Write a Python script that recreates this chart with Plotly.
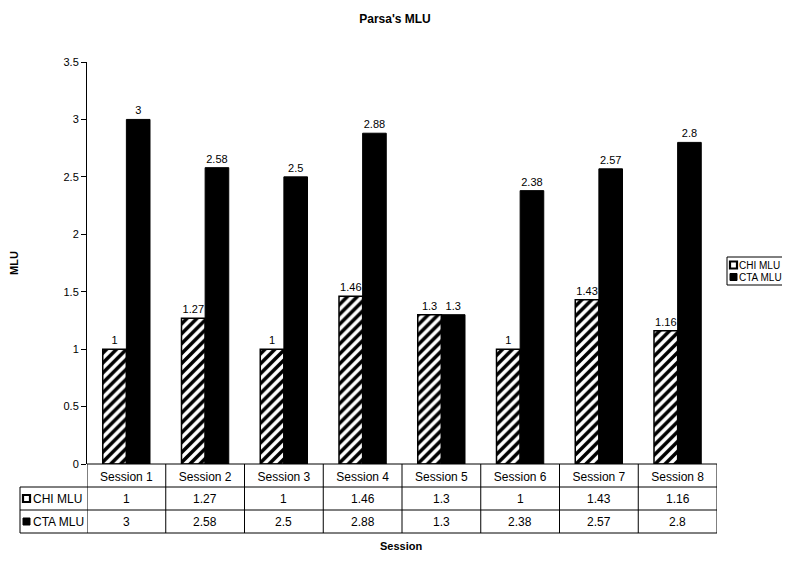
import plotly.graph_objects as go

sessions = ["Session 1", "Session 2", "Session 3", "Session 4",
            "Session 5", "Session 6", "Session 7", "Session 8"]
chi_mlu = [1, 1.27, 1, 1.46, 1.3, 1, 1.43, 1.16]
cta_mlu = [3, 2.58, 2.5, 2.88, 1.3, 2.38, 2.57, 2.8]
y_ticks = [0, 0.5, 1, 1.5, 2, 2.5, 3, 3.5]
series_names = ["CHI MLU", "CTA MLU"]

FONT = "Liberation Sans, Arial, sans-serif"
idx = list(range(len(sessions)))

fig = go.Figure()
fig.add_trace(go.Bar(
    x=idx, y=chi_mlu, name=series_names[0],
    marker=dict(color="white", line=dict(color="black", width=1.5),
                pattern=dict(shape="/", fgcolor="black", bgcolor="white",
                             fgopacity=1, size=7, solidity=0.5)),
    text=[f"{v:g}" for v in chi_mlu], textposition="outside",
    textfont=dict(size=11, color="black", family=FONT), cliponaxis=False,
))
fig.add_trace(go.Bar(
    x=idx, y=cta_mlu, name=series_names[1],
    marker=dict(color="black", line=dict(color="black", width=1)),
    text=[f"{v:g}" for v in cta_mlu], textposition="outside",
    textfont=dict(size=11, color="black", family=FONT), cliponaxis=False,
))

OFF = 8  # page body margin
W, H = 782, 572
# reference pixel geometry
PL, PR, PT, PB = 87, 717, 62, 464
L, T = PL - OFF, PT - OFF
R, B = W - (PR - OFF), H - (PB - OFF)
pw, ph = PR - PL, PB - PT
row_h = 23
def py(px):
    return (PB - px) / ph
def pxp(px):
    return (px - PL) / pw

shapes = []
line = dict(color="black", width=1)
for k in range(len(sessions) + 1):
    shapes.append(dict(type="line", xref="x", yref="paper",
                       x0=k - 0.5, x1=k - 0.5,
                       y0=0, y1=py(PB + 3 * row_h), line=line))
shapes.append(dict(type="line", xref="paper", yref="paper",
                   x0=0, x1=1, y0=0, y1=0, line=line))
for r in (1, 2, 3):
    shapes.append(dict(type="line", xref="paper", yref="paper",
                       x0=pxp(20), x1=1, y0=py(PB + r * row_h),
                       y1=py(PB + r * row_h), line=line))
shapes.append(dict(type="line", xref="paper", yref="paper",
                   x0=pxp(20), x1=pxp(20), y0=py(PB + row_h),
                   y1=py(PB + 3 * row_h), line=line))

def key_icon(x0, yc, fill):
    return dict(type="rect", xref="paper", yref="paper",
                x0=pxp(x0), x1=pxp(x0 + 7), y0=py(yc + 3.5), y1=py(yc - 3.5),
                fillcolor=fill,
                line=dict(color="black", width=2.2 if fill == "white" else 1))

annotations = []
for r, (name, vals) in enumerate(((series_names[0], chi_mlu), (series_names[1], cta_mlu)), start=1):
    yc = PB + r * row_h + row_h / 2
    fill = "white" if r == 1 else "black"
    shapes.append(key_icon(23, yc, fill))
    annotations.append(dict(xref="paper", yref="paper", x=pxp(31), y=py(yc),
                            text=name, showarrow=False, xanchor="left",
                            yanchor="middle", font=dict(size=12, family=FONT, color="black")))
    for i, v in enumerate(vals):
        annotations.append(dict(xref="x", yref="paper", x=i, y=py(yc),
                                text=f"{v:g}", showarrow=False, xanchor="center",
                                yanchor="middle", font=dict(size=12, family=FONT, color="black")))

# custom legend box
shapes.append(dict(type="rect", xref="paper", yref="paper",
                   x0=pxp(727), x1=pxp(795), y0=py(257), y1=py(285),
                   line=dict(color="black", width=1), fillcolor="rgba(0,0,0,0)"))
for r, name in enumerate(series_names):
    yc = 265 + r * 12
    fill = "white" if r == 0 else "black"
    shapes.append(key_icon(730, yc, fill))
    annotations.append(dict(xref="paper", yref="paper", x=pxp(737), y=py(yc),
                            text=name, showarrow=False, xanchor="left",
                            yanchor="middle", font=dict(size=10, family=FONT, color="black")))

annotations.append(dict(xref="paper", yref="paper", x=pxp(401), y=py(546),
                        text="<b>Session</b>", showarrow=False, yanchor="middle",
                        font=dict(size=11, family=FONT, color="black")))
annotations.append(dict(xref="paper", yref="paper", x=pxp(14), y=py(263),
                        text="<b>MLU</b>", showarrow=False, textangle=-90,
                        xanchor="center", yanchor="middle",
                        font=dict(size=11, family=FONT, color="black")))

fig.update_layout(
    width=W, height=H,
    margin=dict(l=L, r=R, t=T, b=B, autoexpand=False),
    paper_bgcolor="white", plot_bgcolor="white",
    showlegend=False,
    title=dict(text="<b>Parsa's MLU</b>", x=(395 - OFF) / W, xref="container",
               y=1 - (19 - OFF) / H,
               yanchor="middle", font=dict(size=12, family=FONT, color="black")),
    barmode="group", bargap=0.4, bargroupgap=0,
    font=dict(family=FONT, color="black"),
    xaxis=dict(tickmode="array", tickvals=idx, ticktext=sessions,
               range=[-0.5, len(sessions) - 0.5], showline=False, ticks="",
               tickfont=dict(size=12, family=FONT, color="black"),
               showgrid=False, zeroline=False, ticklabelstandoff=4),
    yaxis=dict(range=[0, 3.5], tickvals=y_ticks, ticktext=[f"{v:g}" for v in y_ticks],
               showline=True, linecolor="black", linewidth=1, ticks="outside",
               ticklen=5, tickcolor="black", showgrid=False, zeroline=False,
               tickfont=dict(size=11, family=FONT, color="black")),
    shapes=shapes, annotations=annotations,
)

fig.write_html("out.html")
